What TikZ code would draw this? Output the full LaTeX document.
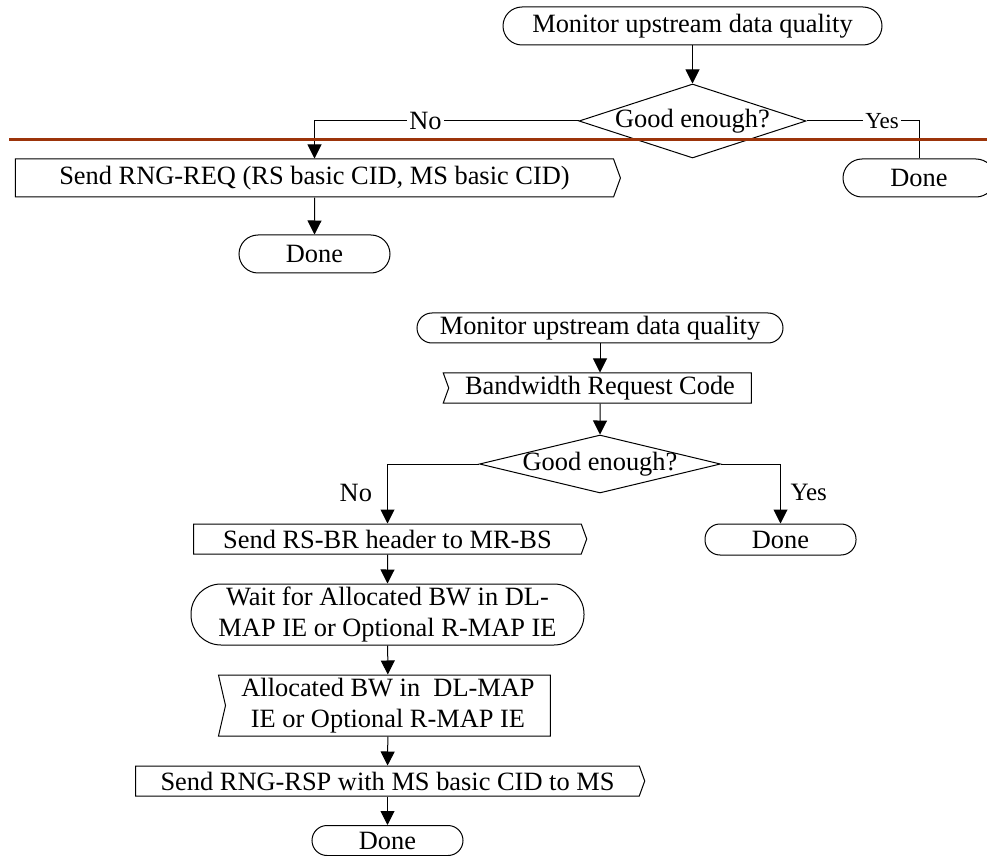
\documentclass[tikz,border=0pt]{standalone}
\usepackage{fontspec}
\setmainfont{Liberation Serif}
\usetikzlibrary{shapes.geometric,shapes.symbols,arrows.meta}
\definecolor{rust}{RGB}{156,52,10}

\begin{document}
\begin{tikzpicture}[x=0.5pt,y=-0.5pt,line width=0.5pt,
  every node/.style={font=\fontsize{13.2}{15.5}\selectfont, inner sep=0pt},
  terminal/.style={draw, rounded corners=#1},
  terminal/.default=9.5pt,
  sendbox/.style={draw, shape=signal, signal to=east, signal from=nowhere, signal pointer angle=#1},
  recvbox/.style={draw, shape=signal, signal from=west, signal to=nowhere, signal pointer angle=#1},
  decision/.style={draw, diamond},
  flow/.style={-{Triangle[width=7pt,length=7pt]}}]
\useasboundingbox (0,0) rectangle (987,856);
% upper chart
\node[terminal, minimum width=189.5pt, minimum height=19pt] (mon1) at (692.5,26) {Monitor upstream data quality};
\node[decision, minimum width=113.5pt, minimum height=37pt, label=center:{Good enough?}] (good1) at (692.5,121) {};
\node[sendbox=140, minimum width=302.5pt, minimum height=19pt] (rngreq) at (314.5,178) {Send RNG-REQ (RS basic CID, MS basic CID)};
\node[terminal, minimum width=75.5pt, minimum height=19pt] (done1) at (314.5,254) {Done};
\node[terminal, minimum width=76pt, minimum height=19pt] (done2) at (919,178) {Done};
\draw[flow] (mon1) -- (good1);
\draw[flow] (good1.west) -| node[pos=0.29, fill=white, inner xsep=1pt]{No} (rngreq.north);
\draw (good1.east) -| node[pos=0.336, fill=white, inner xsep=1pt, font=\fontsize{11.5}{13}\selectfont]{Yes} (done2.north);
\draw[flow] (rngreq) -- (done1);
\draw[rust, line width=1.5pt] (9,140) -- (987,140);
% lower chart
\node[terminal=7.5pt, minimum width=183pt, minimum height=15pt] (mon2) at (600,328) {Monitor upstream data quality};
\node[recvbox=140, minimum width=154pt, minimum height=15pt] (bwreq) at (600,388) {Bandwidth Request Code};
\node[decision, minimum width=120.5pt, minimum height=29pt, label=center:{Good enough?}] (good2) at (600,464) {};
\node[sendbox=140, minimum width=196.5pt, minimum height=15pt] (rsbr) at (387.5,539) {Send RS-BR header to MR-BS};
\node[terminal=7.5pt, minimum width=75.5pt, minimum height=15.5pt] (done3) at (780.5,539.5) {Done};
\node[terminal=15pt, minimum width=196.5pt, minimum height=30.5pt, align=center] (wait) at (387.5,614.5) {Wait for Allocated BW in DL-\\MAP IE or Optional R-MAP IE};
\node[recvbox=154, minimum width=166pt, minimum height=30.5pt, align=center] (alloc) at (388,705.5) {Allocated BW in~ DL-MAP\\IE or Optional R-MAP IE};
\node[sendbox=140, minimum width=254.5pt, minimum height=15pt] (rngrsp) at (387.5,781) {Send RNG-RSP with MS basic CID to MS};
\node[terminal=7.5pt, minimum width=75.5pt, minimum height=15pt] (done4) at (387.5,840.5) {Done};
\draw[flow] (mon2) -- (bwreq);
\draw[flow] (bwreq) -- (good2);
\draw[flow] (good2.west) -| node[pos=0.74, left=7.5pt]{No} (rsbr.north);
\draw[flow] (good2.east) -| node[pos=0.74, right=4.75pt, font=\fontsize{12.5}{14}\selectfont]{Yes} (done3.north);
\draw[flow] (rsbr) -- (wait);
\draw[flow] (wait) -- (alloc);
\draw[flow] (alloc) -- (rngrsp);
\draw[flow] (rngrsp) -- (done4);
\end{tikzpicture}
\end{document}
